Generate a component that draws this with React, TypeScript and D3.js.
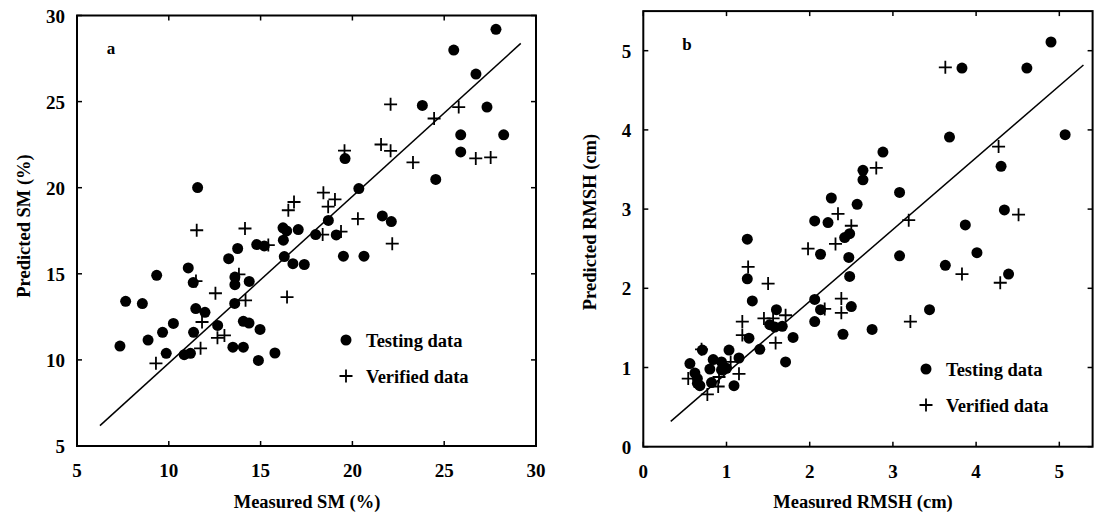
import React from "react";
import * as d3 from "d3";

// ---------- Panel a: soil moisture ----------
const smTesting: [number, number][] = [
  [11.57, 20.01], [13.75, 16.47], [14.79, 16.7], [15.2, 16.62], [16.22, 17.67],
  [16.42, 17.49], [16.24, 16.95], [17.05, 17.57], [16.29, 16.0], [13.26, 15.88],
  [18.69, 18.1], [18.0, 17.28], [19.12, 17.26], [19.6, 21.69], [20.35, 19.95],
  [19.51, 16.02], [20.63, 16.02], [27.82, 29.2], [25.52, 27.99], [26.73, 26.6],
  [23.81, 24.78], [27.33, 24.68], [25.9, 23.07], [28.24, 23.07], [25.9, 22.08],
  [24.54, 20.48], [21.63, 18.36], [22.12, 18.03], [16.76, 15.59], [17.38, 15.54],
  [7.34, 10.8], [7.65, 13.4], [8.56, 13.27], [8.87, 11.15], [9.34, 14.91],
  [9.66, 11.6], [9.86, 10.38], [10.25, 12.12], [10.84, 10.3], [11.18, 10.38],
  [11.06, 15.34], [11.33, 14.49], [11.35, 11.6], [11.47, 12.98], [11.97, 12.76],
  [12.66, 12.0], [13.6, 14.81], [13.6, 14.37], [13.59, 13.28], [13.49, 10.74],
  [14.06, 10.74], [14.06, 12.24], [14.37, 12.14], [14.38, 14.56], [14.97, 11.77],
  [14.88, 9.97], [15.78, 10.4],
];
const smVerified: [number, number][] = [
  [11.52, 17.53], [14.15, 17.63], [16.51, 18.69], [16.82, 19.17], [15.42, 16.67],
  [18.42, 19.71], [19.05, 19.32], [18.68, 18.9], [18.38, 17.28], [19.38, 17.45],
  [19.57, 22.15], [20.3, 18.19], [22.08, 24.84], [25.79, 24.68], [24.45, 24.02],
  [21.56, 22.51], [22.08, 22.14], [23.3, 21.47], [26.72, 21.7], [27.53, 21.76],
  [22.17, 16.75], [9.3, 9.8], [11.73, 10.67], [11.81, 12.2], [12.54, 13.87],
  [12.65, 11.28], [13.03, 11.42], [11.48, 14.58], [13.82, 14.97], [14.18, 13.46],
  [16.44, 13.65],
];
const smFit: [number, number][] = [[6.25, 6.18], [29.17, 28.38]];
const smTicks = [5, 10, 15, 20, 25, 30];

// ---------- Panel b: RMS height ----------
const rmshTesting: [number, number][] = [
  [2.26, 3.14], [2.06, 2.85], [2.22, 2.83], [1.25, 2.62], [2.13, 2.43],
  [4.9, 5.11], [3.83, 4.78], [4.61, 4.78], [3.68, 3.91], [5.07, 3.94],
  [2.88, 3.72], [2.64, 3.49], [2.64, 3.37], [4.3, 3.54], [3.08, 3.21],
  [2.57, 3.06], [4.34, 2.99], [3.87, 2.8], [2.42, 2.64], [2.48, 2.69],
  [4.01, 2.45], [3.08, 2.41], [2.47, 2.39], [2.48, 2.15], [2.06, 1.86],
  [2.13, 1.73], [2.5, 1.77], [2.06, 1.58], [2.75, 1.48], [3.44, 1.73],
  [3.63, 2.29], [4.39, 2.18], [2.4, 1.42], [1.25, 2.12], [1.31, 1.84],
  [1.6, 1.73], [1.52, 1.54], [1.58, 1.51], [1.67, 1.52], [1.27, 1.37],
  [1.8, 1.38], [1.4, 1.23], [1.71, 1.07], [1.03, 1.22], [1.15, 1.12],
  [0.71, 1.22], [0.84, 1.1], [0.94, 1.07], [1.0, 0.99], [0.94, 0.97],
  [0.8, 0.98], [0.56, 1.05], [0.62, 0.93], [0.65, 0.86], [0.65, 0.8],
  [0.68, 0.77], [0.82, 0.81], [1.09, 0.77],
];
const rmshVerified: [number, number][] = [
  [1.98, 2.5], [2.34, 2.94], [2.31, 2.56], [3.63, 4.79], [4.27, 3.79],
  [2.8, 3.52], [2.5, 2.79], [3.19, 2.86], [4.51, 2.93], [2.38, 1.87],
  [2.38, 1.69], [2.18, 1.74], [3.21, 1.58], [3.83, 2.18], [4.29, 2.07],
  [1.26, 2.27], [1.5, 2.06], [1.19, 1.58], [1.19, 1.41], [1.45, 1.62],
  [1.56, 1.62], [1.71, 1.66], [1.59, 1.31], [0.7, 1.23], [1.05, 1.07],
  [1.15, 0.92], [0.91, 0.88], [0.54, 0.86], [0.77, 0.66], [0.9, 0.76],
];
const rmshFit: [number, number][] = [[0.33, 0.32], [5.29, 4.82]];
const rmshTicks = [0, 1, 2, 3, 4, 5];

const legendLabels = ["Testing data", "Verified data"];

const FONT = "'Liberation Serif', 'Times New Roman', serif";

type PanelProps = {
  left: number; right: number; top: number; bottom: number;
  xDomain: [number, number]; yDomain: [number, number];
  ticks: number[];
  testing: [number, number][]; verified: [number, number][];
  fit: [number, number][];
  xTitle: string; yTitle: string; letter: string;
  xTitleX: number; yTitleX: number; yTitleY: number;
  legendX: number; legendY: number; letterX: number; letterY: number;
};

function Panel(p: PanelProps) {
  const x = d3.scaleLinear().domain(p.xDomain).range([p.left, p.right]);
  const y = d3.scaleLinear().domain(p.yDomain).range([p.bottom, p.top]);
  const line = d3.line<[number, number]>().x((d) => x(d[0])).y((d) => y(d[1]));
  const tl = 5;
  const xt = p.ticks.filter((t) => t >= p.xDomain[0] && t <= p.xDomain[1]);
  const yt = p.ticks.filter((t) => t >= p.yDomain[0] && t <= p.yDomain[1]);
  const plus = (cx: number, cy: number, s = 6.5) =>
    `M${cx - s},${cy}H${cx + s}M${cx},${cy - s}V${cy + s}`;
  return (
    <g fontFamily={FONT}>
      {/* regression line */}
      <path d={line(p.fit) || ""} stroke="#000" strokeWidth={1.5} fill="none" />
      {/* verified points */}
      {p.verified.map((d, i) => (
        <path key={"v" + i} d={plus(x(d[0]), y(d[1]))} stroke="#000" strokeWidth={1.8} fill="none" />
      ))}
      {/* testing points */}
      {p.testing.map((d, i) => (
        <circle key={"t" + i} cx={x(d[0])} cy={y(d[1])} r={5.5} fill="#000" />
      ))}
      {/* frame */}
      <rect x={p.left} y={p.top} width={p.right - p.left} height={p.bottom - p.top}
        fill="none" stroke="#000" strokeWidth={2} />
      {/* ticks */}
      {xt.map((t) => (
        <g key={"xt" + t}>
          <line x1={x(t)} x2={x(t)} y1={p.bottom} y2={p.bottom - tl} stroke="#000" strokeWidth={1.5} />
          <line x1={x(t)} x2={x(t)} y1={p.top} y2={p.top + tl} stroke="#000" strokeWidth={1.5} />
          <text x={x(t)} y={p.bottom + 31} textAnchor="middle" fontSize={19} fontWeight="bold">{t}</text>
        </g>
      ))}
      {yt.map((t) => (
        <g key={"yt" + t}>
          <line x1={p.left} x2={p.left + tl} y1={y(t)} y2={y(t)} stroke="#000" strokeWidth={1.5} />
          <line x1={p.right} x2={p.right - tl} y1={y(t)} y2={y(t)} stroke="#000" strokeWidth={1.5} />
          <text x={p.left - 12} y={y(t) + 7} textAnchor="end" fontSize={19} fontWeight="bold">{t}</text>
        </g>
      ))}
      {/* titles */}
      <text x={p.xTitleX} y={508} textAnchor="middle" fontSize={18.5} fontWeight="bold">{p.xTitle}</text>
      <text transform={`translate(${p.yTitleX},${p.yTitleY}) rotate(-90)`} textAnchor="middle"
        fontSize={18.5} fontWeight="bold">{p.yTitle}</text>
      <text x={p.letterX} y={p.letterY} textAnchor="middle" fontSize={17} fontWeight="bold">{p.letter}</text>
      {/* legend */}
      <circle cx={p.legendX} cy={p.legendY} r={5.5} fill="#000" />
      <path d={plus(p.legendX, p.legendY + 36)} stroke="#000" strokeWidth={1.8} />
      <text x={p.legendX + 20} y={p.legendY + 7} fontSize={18.5} fontWeight="bold">{legendLabels[0]}</text>
      <text x={p.legendX + 20} y={p.legendY + 43} fontSize={18.5} fontWeight="bold">{legendLabels[1]}</text>
    </g>
  );
}

export default function App() {
  return (
    <svg width={1095} height={513} style={{ position: "absolute", left: 0, top: 0, background: "#fff" }}>
      <rect width={1095} height={513} fill="#fff" />
      <Panel left={77} right={536} top={15.5} bottom={446}
        xDomain={[5, 30]} yDomain={[5, 30]} ticks={smTicks}
        testing={smTesting} verified={smVerified} fit={smFit}
        xTitle="Measured SM (%)" yTitle="Predicted SM (%)" letter="a"
        xTitleX={307} yTitleX={30} yTitleY={226}
        legendX={346} legendY={340} letterX={111} letterY={54} />
      <Panel left={643.3} right={1092.6} top={11.1} bottom={446.7}
        xDomain={[0, 5.4]} yDomain={[0, 5.5]} ticks={rmshTicks}
        testing={rmshTesting} verified={rmshVerified} fit={rmshFit}
        xTitle="Measured RMSH (cm)" yTitle="Predicted RMSH (cm)" letter="b"
        xTitleX={863} yTitleX={596} yTitleY={222}
        legendX={926} legendY={369} letterX={687} letterY={50} />
    </svg>
  );
}
